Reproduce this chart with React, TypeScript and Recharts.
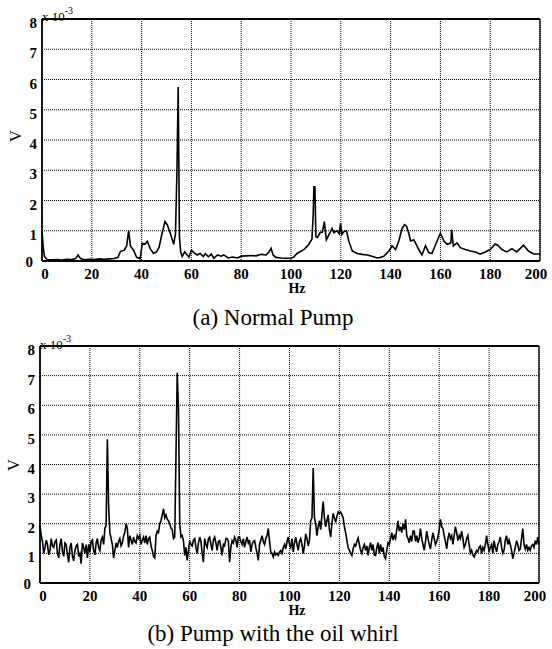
import React from "react";
import { LineChart, Line, XAxis, YAxis, CartesianGrid, ReferenceLine } from "recharts";

// axis ticks
const hzTicks = [0, 20, 40, 60, 80, 100, 120, 140, 160, 180, 200];
const vTicks = [0, 1, 2, 3, 4, 5, 6, 7, 8];

// (a) normal pump spectrum, values in 1e-3 V
const normalHz = [
  0, 0.5, 1, 2, 4, 6, 8, 10, 12, 13.5, 14.5, 15.5, 17, 19, 21, 23, 25, 27, 29, 30.5,
  31.5, 33, 34, 34.8, 35.5, 36.8, 38, 39.4, 40.3, 41.3, 42.3, 43.5, 44.8, 46, 47, 48.2,
  49.4, 50.3, 51.6, 52.9, 53.6, 54.2, 54.7, 55.2, 55.7, 56.3, 57.3, 58.3, 59, 60, 61,
  62.3, 63.5, 64.8, 65.6, 66.8, 68, 69, 70.5, 72, 73, 74.8, 76.5, 78.5, 80, 82, 84, 86,
  88, 90, 91.2, 92, 92.8, 94, 96, 98, 100, 101, 102.4, 104, 105.5, 107, 108.4, 108.9,
  109.2, 109.6, 110, 110.6, 111.8, 112.6, 113.4, 114.2, 115.1, 116.5, 117.2, 118.5,
  119.4, 119.9, 120.4, 121.2, 122.3, 123.2, 124.6, 126.6, 128.6, 130.6, 132.5, 134.6,
  136, 137.3, 139.3, 140.6, 142, 143.3, 144.6, 145.6, 146.4, 147.3, 148, 149.3, 150,
  151.3, 152.6, 154, 155.3, 156.6, 158, 160, 161.4, 162.7, 164.2, 164.5, 165.2, 166.7,
  168, 170, 172, 174, 176, 178, 180, 182, 183, 184.7, 186.7, 188.7, 190.7, 193.4, 195.4,
  197.4, 200,
];
const normalV = [
  1.0, 0.45, 0.15, 0.05, 0.04, 0.05, 0.03, 0.06, 0.05, 0.08, 0.2, 0.08, 0.04, 0.06, 0.05,
  0.07, 0.06, 0.07, 0.08, 0.12, 0.32, 0.35, 0.5, 1.0, 0.5, 0.35, 0.12, 0.08, 0.58, 0.55,
  0.65, 0.4, 0.25, 0.3, 0.45, 0.9, 1.3, 1.2, 0.9, 0.55, 0.9, 3.0, 5.75, 0.8, 0.3, 0.15,
  0.3, 0.2, 0.12, 0.36, 0.28, 0.2, 0.25, 0.15, 0.24, 0.14, 0.23, 0.09, 0.2, 0.16, 0.2,
  0.1, 0.13, 0.1, 0.16, 0.17, 0.18, 0.17, 0.22, 0.2, 0.3, 0.42, 0.2, 0.12, 0.1, 0.09,
  0.1, 0.12, 0.25, 0.32, 0.4, 0.54, 0.72, 1.5, 2.45, 2.45, 0.8, 0.78, 0.95, 0.95, 1.3,
  0.7, 0.85, 1.08, 0.94, 1.0, 0.9, 1.25, 0.88, 0.97, 1.0, 0.66, 0.33, 0.25, 0.22, 0.2,
  0.16, 0.1, 0.12, 0.16, 0.33, 0.5, 0.38, 0.66, 1.08, 1.2, 1.15, 0.92, 0.66, 0.7, 0.6,
  0.38, 0.2, 0.5, 0.28, 0.25, 0.53, 0.92, 0.66, 0.55, 0.6, 1.03, 0.5, 0.6, 0.44, 0.38,
  0.33, 0.3, 0.23, 0.3, 0.38, 0.56, 0.52, 0.38, 0.3, 0.41, 0.3, 0.52, 0.33, 0.23, 0.23,
];

// (b) pump with the oil whirl, 0.5 Hz bins, values in 1e-3 V
const whirlHz = [
  0, 0.5, 1, 1.5, 2, 2.5, 3, 3.5, 4, 4.5, 5, 5.5, 6, 6.5, 7, 7.5, 8, 8.5, 9, 9.5,
  10, 10.5, 11, 11.5, 12, 12.5, 13, 13.5, 14, 14.5, 15, 15.5, 16, 16.5, 17, 17.5, 18, 18.5, 19, 19.5,
  20, 20.5, 21, 21.5, 22, 22.5, 23, 23.5, 24, 24.5, 25, 25.5, 26, 26.5, 27, 27.5, 28, 28.5, 29, 29.5,
  30, 30.5, 31, 31.5, 32, 32.5, 33, 33.5, 34, 34.5, 35, 35.5, 36, 36.5, 37, 37.5, 38, 38.5, 39, 39.5,
  40, 40.5, 41, 41.5, 42, 42.5, 43, 43.5, 44, 44.5, 45, 45.5, 46, 46.5, 47, 47.5, 48, 48.5, 49, 49.5,
  50, 50.5, 51, 51.5, 52, 52.5, 53, 53.5, 54, 54.5, 55, 55.5, 56, 56.5, 57, 57.5, 58, 58.5, 59, 59.5,
  60, 60.5, 61, 61.5, 62, 62.5, 63, 63.5, 64, 64.5, 65, 65.5, 66, 66.5, 67, 67.5, 68, 68.5, 69, 69.5,
  70, 70.5, 71, 71.5, 72, 72.5, 73, 73.5, 74, 74.5, 75, 75.5, 76, 76.5, 77, 77.5, 78, 78.5, 79, 79.5,
  80, 80.5, 81, 81.5, 82, 82.5, 83, 83.5, 84, 84.5, 85, 85.5, 86, 86.5, 87, 87.5, 88, 88.5, 89, 89.5,
  90, 90.5, 91, 91.5, 92, 92.5, 93, 93.5, 94, 94.5, 95, 95.5, 96, 96.5, 97, 97.5, 98, 98.5, 99, 99.5,
  100, 100.5, 101, 101.5, 102, 102.5, 103, 103.5, 104, 104.5, 105, 105.5, 106, 106.5, 107, 107.5, 108, 108.5, 109, 109.5,
  110, 110.5, 111, 111.5, 112, 112.5, 113, 113.5, 114, 114.5, 115, 115.5, 116, 116.5, 117, 117.5, 118, 118.5, 119, 119.5,
  120, 120.5, 121, 121.5, 122, 122.5, 123, 123.5, 124, 124.5, 125, 125.5, 126, 126.5, 127, 127.5, 128, 128.5, 129, 129.5,
  130, 130.5, 131, 131.5, 132, 132.5, 133, 133.5, 134, 134.5, 135, 135.5, 136, 136.5, 137, 137.5, 138, 138.5, 139, 139.5,
  140, 140.5, 141, 141.5, 142, 142.5, 143, 143.5, 144, 144.5, 145, 145.5, 146, 146.5, 147, 147.5, 148, 148.5, 149, 149.5,
  150, 150.5, 151, 151.5, 152, 152.5, 153, 153.5, 154, 154.5, 155, 155.5, 156, 156.5, 157, 157.5, 158, 158.5, 159, 159.5,
  160, 160.5, 161, 161.5, 162, 162.5, 163, 163.5, 164, 164.5, 165, 165.5, 166, 166.5, 167, 167.5, 168, 168.5, 169, 169.5,
  170, 170.5, 171, 171.5, 172, 172.5, 173, 173.5, 174, 174.5, 175, 175.5, 176, 176.5, 177, 177.5, 178, 178.5, 179, 179.5,
  180, 180.5, 181, 181.5, 182, 182.5, 183, 183.5, 184, 184.5, 185, 185.5, 186, 186.5, 187, 187.5, 188, 188.5, 189, 189.5,
  190, 190.5, 191, 191.5, 192, 192.5, 193, 193.5, 194, 194.5, 195, 195.5, 196, 196.5, 197, 197.5, 198, 198.5, 199, 199.5,
  200,
];
const whirlV = [
  1.95, 1.6, 1.4, 1.0, 1.2, 1.45, 1.3, 0.95, 1.1, 1.5, 1.25, 1.2, 1.4, 1.45, 1.0, 0.85, 1.3, 1.5, 1.05, 0.9,
  1.35, 1.3, 0.95, 0.7, 1.2, 1.35, 0.9, 0.75, 1.1, 1.25, 1.3, 0.9, 1.0, 0.65, 1.35, 1.2, 1.0, 1.3, 0.85, 1.3,
  1.05, 1.4, 1.45, 1.1, 0.95, 1.35, 1.5, 1.2, 1.1, 1.45, 1.55, 1.3, 1.85, 1.95, 4.85, 2.6, 1.7, 1.5, 1.3, 0.84,
  1.1, 1.35, 1.2, 1.4, 1.5, 1.25, 1.35, 1.6, 1.7, 2.0, 1.85, 1.2, 1.6, 1.45, 1.3, 1.55, 1.4, 1.35, 1.6, 1.5,
  1.6, 1.3, 1.45, 1.55, 1.35, 1.6, 1.3, 1.5, 1.55, 1.25, 1.1, 0.9, 0.85, 1.6, 1.75, 1.7, 2.0, 2.1, 2.3, 2.5,
  2.2, 2.3, 2.15, 2.1, 2.0, 1.85, 1.8, 1.5, 1.55, 4.3, 7.1, 5.9, 2.0, 1.55, 1.6, 1.43, 0.93, 1.2, 0.76, 1.1,
  1.43, 1.3, 1.25, 1.45, 1.5, 1.2, 1.0, 1.35, 1.55, 1.4, 1.0, 0.7, 1.5, 1.3, 1.2, 1.5, 1.55, 1.3, 1.1, 1.45,
  1.55, 1.35, 1.1, 1.4, 1.43, 1.2, 0.93, 1.3, 1.25, 1.5, 1.5, 1.4, 0.7, 1.2, 1.43, 1.35, 1.55, 1.45, 1.2, 1.55,
  1.55, 1.4, 1.3, 1.5, 1.2, 1.4, 1.55, 1.35, 1.45, 1.05, 1.3, 1.4, 1.43, 1.2, 1.0, 0.76, 1.3, 1.45, 1.6, 1.4,
  1.3, 1.5, 1.6, 1.84, 1.4, 1.05, 1.0, 0.88, 1.05, 0.95, 1.0, 0.93, 1.05, 1.1, 1.0, 1.2, 1.3, 1.15, 1.4, 1.55,
  1.3, 1.2, 1.5, 1.05, 1.35, 1.55, 1.3, 1.1, 1.4, 1.5, 1.3, 1.0, 1.25, 1.66, 1.5, 1.25, 1.45, 2.1, 2.2, 3.88,
  2.2, 2.0, 1.6, 1.9, 2.1, 1.8, 2.3, 2.75, 2.2, 1.9, 2.1, 2.3, 1.8, 1.55, 2.0, 2.35, 2.2, 2.05, 2.25, 2.4,
  2.35, 2.4, 2.3, 2.2, 1.9, 1.7, 1.43, 1.2, 1.1, 1.0, 0.93, 1.15, 1.3, 1.25, 1.4, 1.52, 1.3, 1.1, 1.0, 1.2,
  1.3, 1.1, 1.25, 0.93, 1.2, 1.36, 1.1, 1.3, 0.95, 0.93, 1.2, 1.36, 1.0, 1.3, 1.05, 1.2, 0.9, 0.82, 1.1, 1.36,
  1.3, 1.5, 1.7, 1.45, 1.6, 1.5, 1.8, 2.1, 1.75, 1.9, 1.7, 2.0, 1.8, 2.15, 1.6, 1.5, 1.36, 1.6, 1.4, 1.75,
  1.75, 1.4, 1.6, 1.36, 1.5, 1.84, 1.5, 1.3, 1.1, 1.4, 1.75, 1.5, 1.3, 1.15, 1.45, 1.7, 1.5, 1.3, 1.4, 1.55,
  1.8, 2.15, 1.9, 1.84, 1.6, 1.4, 1.15, 1.5, 1.7, 1.5, 1.6, 1.3, 1.6, 1.9, 1.7, 1.43, 1.6, 1.5, 1.75, 1.5,
  1.2, 1.3, 1.5, 1.6, 1.3, 1.0, 1.1, 0.95, 0.88, 1.0, 1.1, 1.05, 1.2, 1.25, 1.0, 1.2, 1.1, 1.3, 1.6, 1.3,
  1.05, 1.2, 1.3, 1.0, 1.43, 1.2, 1.05, 1.3, 1.4, 1.55, 1.2, 1.0, 1.1, 1.45, 1.6, 1.3, 1.45, 1.3, 1.1, 0.82,
  1.0, 1.2, 1.43, 1.3, 1.1, 1.15, 1.5, 1.84, 1.3, 1.15, 1.3, 1.1, 1.2, 1.1, 1.25, 1.3, 1.2, 1.43, 1.3, 1.55,
  1.3,
];

const FONT = '"Liberation Serif", "Times New Roman", serif';

const toRows = (hz: number[], v: number[]) => hz.map((f, i) => ({ hz: f, v: v[i] }));

const YTick = (props: any) => {
  const { x, y, payload } = props;
  const zero = payload.value === 0;
  return (
    <text x={zero ? x - 9 : x - 5} y={zero ? y + 6 : y + 9} textAnchor="end" fontFamily={FONT} fontSize={15} fontWeight="bold" fill="#000">
      {payload.value}
    </text>
  );
};

const XTick = (props: any) => {
  const { x, y, payload } = props;
  const v = payload.value;
  const dx = v === 0 ? 3 : v === 200 ? -4 : 0;
  return (
    <text x={x + dx} y={y + 18} textAnchor="middle" fontFamily={FONT} fontSize={15} fontWeight="bold" fill="#000">
      {v}
    </text>
  );
};

type SpectrumProps = {
  rows: { hz: number; v: number }[];
  height: number;
  plotLeft: number;
  plotRight: number;
  plotTop: number;
  plotBottom: number;
};

const Spectrum = ({ rows, height, plotLeft, plotRight, plotTop, plotBottom }: SpectrumProps) => (
  <LineChart
    width={552}
    height={height}
    data={rows}
    margin={{ top: plotTop, right: 552 - plotRight, bottom: 0, left: 0 }}
  >
    <CartesianGrid stroke="#000" strokeDasharray="1 1" strokeWidth={1} />
    <XAxis
      dataKey="hz"
      type="number"
      domain={[0, 200]}
      ticks={hzTicks}
      interval={0}
      height={height - plotBottom}
      tickSize={0}
      tickMargin={0}
      tickLine={false}
      axisLine={{ stroke: "#000", strokeWidth: 1.8 }}
      tick={(p: any) => <XTick {...p} />}
    />
    <YAxis
      type="number"
      domain={[0, 8]}
      ticks={vTicks}
      interval={0}
      width={plotLeft}
      tickSize={0}
      tickMargin={0}
      tickLine={false}
      axisLine={{ stroke: "#000", strokeWidth: 1.8 }}
      tick={(p: any) => <YTick {...p} />}
    />
    <ReferenceLine y={8} stroke="#000" strokeWidth={1.8} />
    <ReferenceLine x={200} stroke="#000" strokeWidth={1.3} />
    <Line
      dataKey="v"
      type="linear"
      stroke="#000"
      strokeWidth={1.6}
      dot={false}
      isAnimationActive={false}
    />
  </LineChart>
);

const App = () => (
  <div style={{ position: "absolute", left: 0, top: 0, width: 552, height: 649, background: "#fff", overflow: "hidden" }}>
    <div style={{ position: "absolute", left: 0, top: 0 }}>
      <Spectrum rows={toRows(normalHz, normalV)} height={300} plotLeft={42} plotRight={540} plotTop={19} plotBottom={261} />
    </div>
    <div style={{ position: "absolute", left: 0, top: 300 }}>
      <Spectrum rows={toRows(whirlHz, whirlV)} height={349} plotLeft={40} plotRight={539} plotTop={46} plotBottom={283} />
    </div>
    <svg width={552} height={649} style={{ position: "absolute", left: 0, top: 0, pointerEvents: "none" }}>
      <g fontFamily={FONT} fill="#000">
        <text x={42} y={21} fontSize={13}>
          x 10<tspan dy={-7} fontSize={10}>-3</tspan>
        </text>
        <text x={40} y={349} fontSize={13}>
          x 10<tspan dy={-7} fontSize={10}>-3</tspan>
        </text>
        <text x={0} y={0} fontSize={17} textAnchor="middle" transform="translate(21,136) rotate(-90)">V</text>
        <text x={0} y={0} fontSize={17} textAnchor="middle" transform="translate(19,465) rotate(-90)">V</text>
        <text x={297} y={293} fontSize={14} fontWeight="bold" textAnchor="middle">Hz</text>
        <text x={297} y={615} fontSize={14} fontWeight="bold" textAnchor="middle">Hz</text>
        <text x={273} y={325} fontSize={23} textAnchor="middle">(a) Normal Pump</text>
        <text x={273} y={641} fontSize={23} textAnchor="middle">(b) Pump with the oil whirl</text>
      </g>
    </svg>
  </div>
);

export default App;
